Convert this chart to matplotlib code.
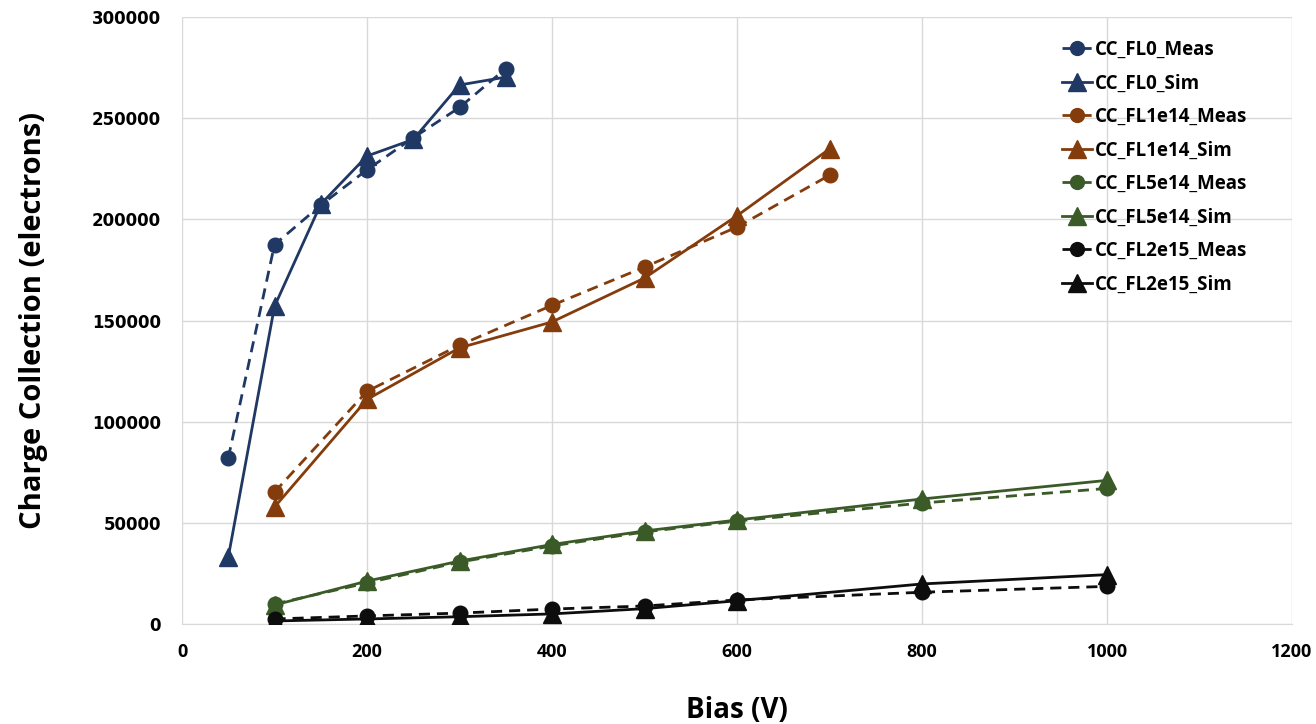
import matplotlib
matplotlib.use("Agg")
import matplotlib.pyplot as plt

x_fl0 = [50, 100, 150, 200, 250, 300, 350]
fl0_meas = [82000, 187500, 207000, 224500, 240300, 255300, 274500]
fl0_sim = [33000, 157000, 207500, 231300, 239500, 266400, 270300]

x_fl1 = [100, 200, 300, 400, 500, 600, 700]
fl1_meas = [65200, 115000, 137800, 157500, 176400, 196200, 221800]
fl1_sim = [57800, 111000, 136500, 149300, 171000, 201800, 234800]

x_hi = [100, 200, 300, 400, 500, 600, 800, 1000]
fl5_meas = [9900, 20300, 30600, 38600, 45500, 50900, 59800, 67000]
fl5_sim = [9400, 21200, 31100, 39300, 46000, 51400, 61800, 71000]
fl2_meas = [2500, 4000, 5400, 7400, 8900, 11900, 15700, 18600]
fl2_sim = [1500, 2500, 3600, 5000, 7600, 11500, 19800, 24400]

labels = ["CC_FL0_Meas", "CC_FL0_Sim", "CC_FL1e14_Meas", "CC_FL1e14_Sim",
          "CC_FL5e14_Meas", "CC_FL5e14_Sim", "CC_FL2e15_Meas", "CC_FL2e15_Sim"]

colors = ["#203864", "#843C0C", "#3A5A28", "#0D0D0D"]

fig = plt.figure(figsize=(13.16, 7.24), dpi=100)
ax = fig.add_axes([0.1383, 0.1381, 0.9818 - 0.1383, 0.9765 - 0.1381])

series = [(x_fl0, fl0_meas, fl0_sim), (x_fl1, fl1_meas, fl1_sim),
          (x_hi, fl5_meas, fl5_sim), (x_hi, fl2_meas, fl2_sim)]
for i, (xs, m, s) in enumerate(series):
    c = colors[i]
    ax.plot(xs, m, color=c, lw=2.0, ls=(0, (4, 2.5)), marker="o", ms=10.5,
            label=labels[2 * i], zorder=3)
    ax.plot(xs, s, color=c, lw=2.0, ls="-", marker="^", ms=13,
            label=labels[2 * i + 1], zorder=3)

ax.set_xlim(0, 1200)
ax.set_ylim(0, 300000)
ax.set_xticks(range(0, 1201, 200))
ax.set_yticks(range(0, 300001, 50000))
ax.grid(True, color="#D9D9D9", lw=1)
ax.set_axisbelow(True)
for sp in ax.spines.values():
    sp.set_visible(False)
ax.spines["bottom"].set_visible(True)
ax.spines["bottom"].set_color("#D9D9D9")
ax.tick_params(length=0)
for t in ax.get_xticklabels():
    t.set_fontfamily("Open Sans")
    t.set_fontweight("bold")
    t.set_fontsize(13)
    t.set_fontstretch("condensed")
for t in ax.get_yticklabels():
    t.set_fontfamily("DejaVu Sans")
    t.set_fontweight("bold")
    t.set_fontsize(12)
ax.xaxis.set_tick_params(pad=14)
ax.yaxis.set_tick_params(pad=15)

ax.set_xlabel("Bias (V)", fontsize=20, fontweight="bold", family="Open Sans", labelpad=25)
ax.set_ylabel("Charge Collection (electrons)", fontsize=21, fontweight="bold",
              family="Open Sans", labelpad=32)

leg = ax.legend(loc="upper left", bbox_to_anchor=(0.778, 0.99), frameon=False,
                prop={"family": "Open Sans", "weight": "bold", "size": 13.5},
                handlelength=1.6, handletextpad=0.15, labelspacing=0.72,
                markerscale=0.95)

fig.savefig("out.png", dpi=100)
